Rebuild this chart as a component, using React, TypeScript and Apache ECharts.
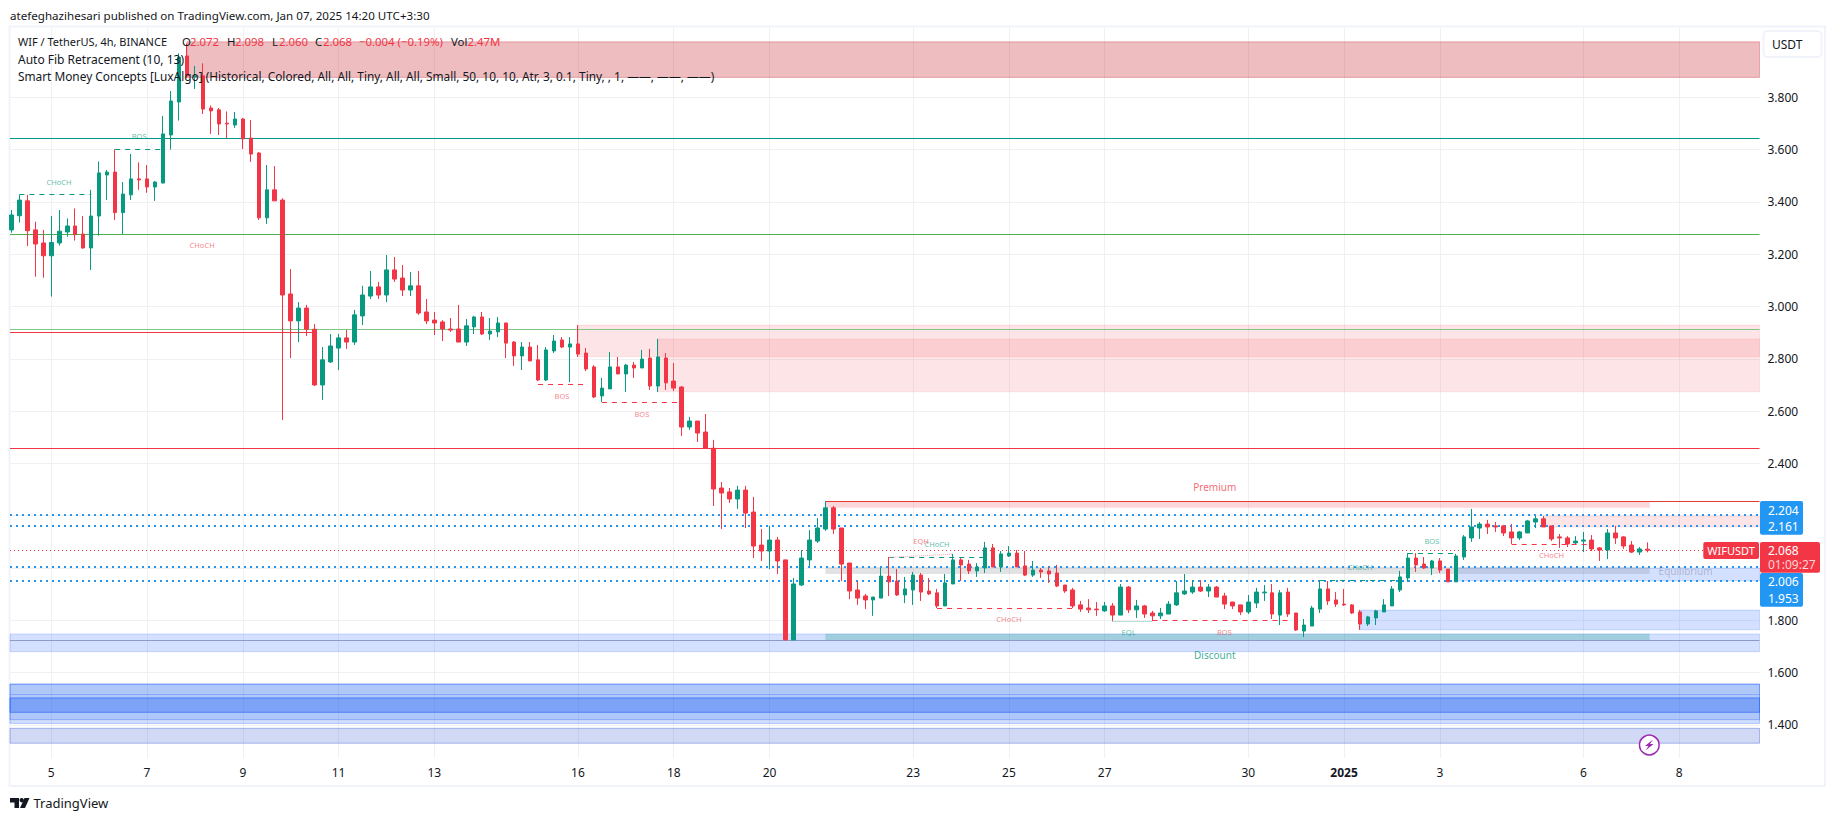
import React, { useEffect, useRef } from "react";
import * as echarts from "echarts";

type Row = [number, number, number, number];
// [open, high, low, close]
const candlesDec4to8: Row[] = [
[3.293,3.369,3.282,3.350],[3.347,3.427,3.321,3.407],[3.404,3.427,3.231,3.290],[3.293,3.324,3.114,3.239],[3.243,3.293,3.110,3.194],
[3.194,3.346,3.038,3.245],[3.243,3.369,3.233,3.288],[3.285,3.337,3.267,3.308],[3.308,3.375,3.252,3.275],[3.277,3.346,3.221,3.224],
[3.224,3.446,3.140,3.346],[3.346,3.555,3.271,3.511],[3.503,3.522,3.407,3.514],[3.514,3.601,3.331,3.359],[3.359,3.476,3.277,3.430],
[3.427,3.583,3.407,3.488],[3.488,3.551,3.446,3.484],[3.488,3.541,3.435,3.457],[3.457,3.480,3.404,3.476],[3.472,3.729,3.472,3.660],
[3.656,3.824,3.600,3.786],[3.782,3.968,3.711,3.953],[3.958,4.006,3.873,3.882],[3.878,3.920,3.832,3.882],[3.882,3.930,3.736,3.755],
[3.759,3.769,3.660,3.748],[3.752,3.759,3.656,3.698],[3.701,3.746,3.643,3.698],[3.694,3.744,3.683,3.717],
];
const candlesDec9to15: Row[] = [
[3.717,3.721,3.602,3.641],[3.644,3.713,3.553,3.583],[3.587,3.591,3.331,3.339],[3.339,3.541,3.316,3.446],[3.446,3.537,3.404,3.404],
[3.407,3.414,2.566,3.044],[3.048,3.143,2.803,2.945],[2.945,3.017,2.864,2.994],[2.994,3.006,2.887,2.913],[2.913,2.933,2.696,2.700],
[2.700,2.845,2.643,2.796],[2.788,2.895,2.784,2.849],[2.841,2.895,2.757,2.880],[2.880,2.910,2.838,2.864],[2.864,2.987,2.853,2.968],
[2.964,3.079,2.929,3.044],[3.040,3.136,3.029,3.075],[3.075,3.094,3.029,3.044],[3.044,3.197,3.017,3.140],[3.140,3.189,3.094,3.105],
[3.109,3.159,3.040,3.063],[3.063,3.132,3.040,3.079],[3.079,3.136,2.968,2.975],[2.979,3.029,2.933,2.945],[2.948,2.979,2.891,2.937],
[2.941,2.948,2.868,2.914],[2.914,2.956,2.903,2.910],[2.914,3.006,2.864,2.864],[2.864,2.952,2.849,2.926],[2.922,2.964,2.895,2.960],
[2.960,2.979,2.891,2.895],[2.895,2.956,2.872,2.906],[2.903,2.960,2.883,2.937],[2.937,2.937,2.803,2.860],[2.864,2.868,2.773,2.811],
[2.811,2.864,2.757,2.845],[2.845,2.864,2.792,2.792],[2.796,2.853,2.715,2.719],[2.719,2.845,2.715,2.834],[2.830,2.891,2.822,2.868],
[2.872,2.883,2.841,2.845],[2.845,2.883,2.711,2.857],
];
const candlesDec16to21: Row[] = [
[2.857,2.929,2.807,2.818],[2.822,2.841,2.753,2.761],[2.769,2.776,2.650,2.654],[2.658,2.727,2.635,2.688],[2.685,2.826,2.685,2.769],
[2.769,2.807,2.742,2.742],[2.742,2.780,2.673,2.776],[2.776,2.788,2.727,2.765],[2.765,2.834,2.765,2.799],[2.803,2.838,2.681,2.696],
[2.696,2.876,2.673,2.807],[2.803,2.822,2.681,2.708],[2.715,2.784,2.677,2.688],[2.692,2.696,2.505,2.539],[2.539,2.578,2.528,2.562],
[2.562,2.562,2.482,2.516],[2.520,2.589,2.458,2.458],[2.458,2.490,2.237,2.302],[2.306,2.329,2.149,2.287],[2.291,2.306,2.249,2.264],
[2.264,2.314,2.226,2.298],[2.298,2.314,2.153,2.210],[2.214,2.272,2.038,2.084],[2.088,2.149,2.027,2.065],[2.065,2.161,1.996,2.107],
[2.107,2.119,1.977,2.027],[2.031,2.031,1.725,1.725],[1.725,1.962,1.725,1.939],[1.935,2.069,1.931,2.038],[2.031,2.145,2.008,2.107],
[2.103,2.191,2.096,2.153],[2.149,2.256,2.142,2.230],[2.230,2.237,2.130,2.149],
];
const candlesDec22to28: Row[] = [
[2.153,2.153,1.950,2.015],[2.019,2.019,1.881,1.912],[1.916,1.950,1.859,1.885],[1.893,1.901,1.843,1.878],[1.878,1.889,1.817,1.889],
[1.885,2.000,1.885,1.969],[1.969,2.042,1.893,1.947],[1.950,1.996,1.893,1.897],[1.897,1.966,1.866,1.920],[1.916,1.985,1.859,1.973],
[1.973,1.981,1.874,1.908],[1.912,1.962,1.897,1.901],[1.905,1.920,1.847,1.855],[1.855,1.977,1.855,1.943],[1.939,2.054,1.939,2.031],
[2.031,2.038,1.950,2.012],[2.015,2.031,1.977,1.989],[1.989,2.019,1.966,2.004],[2.000,2.100,1.981,2.077],[2.077,2.092,2.004,2.004],
[2.004,2.065,1.985,2.054],[2.046,2.084,2.042,2.057],[2.057,2.069,2.004,2.004],[2.008,2.065,1.969,1.973],[1.973,2.027,1.966,1.992],
[1.992,2.000,1.962,1.985],[1.989,2.004,1.943,1.977],[1.981,2.012,1.927,1.931],[1.935,1.935,1.905,1.912],[1.916,1.924,1.847,1.855],
[1.859,1.874,1.832,1.843],[1.847,1.881,1.828,1.840],[1.843,1.870,1.817,1.840],[1.836,1.870,1.832,1.855],[1.855,1.866,1.797,1.820],
[1.820,1.939,1.820,1.927],[1.927,1.931,1.828,1.840],[1.840,1.878,1.809,1.855],[1.855,1.859,1.809,1.824],[1.828,1.836,1.797,1.817],
];
const candlesDec29toJan2: Row[] = [
[1.817,1.847,1.805,1.828],[1.824,1.874,1.824,1.862],[1.859,1.950,1.855,1.905],[1.901,1.977,1.897,1.912],[1.908,1.954,1.901,1.927],
[1.927,1.954,1.908,1.912],[1.912,1.939,1.889,1.927],[1.927,1.931,1.889,1.889],[1.893,1.905,1.843,1.862],[1.870,1.870,1.843,1.855],
[1.859,1.859,1.820,1.832],[1.832,1.897,1.824,1.870],[1.866,1.924,1.847,1.908],[1.905,1.935,1.874,1.908],[1.905,1.939,1.805,1.824],
[1.820,1.916,1.782,1.905],[1.908,1.924,1.813,1.824],[1.828,1.828,1.759,1.763],[1.759,1.805,1.736,1.782],[1.778,1.855,1.778,1.847],
[1.843,1.954,1.828,1.920],[1.920,1.950,1.859,1.874],[1.878,1.908,1.851,1.862],[1.862,1.920,1.855,1.859],[1.859,1.862,1.824,1.828],
[1.832,1.840,1.763,1.786],[1.786,1.817,1.778,1.813],[1.809,1.840,1.782,1.836],[1.832,1.881,1.832,1.859],[1.855,1.931,1.855,1.920],
[1.916,1.989,1.908,1.966],[1.962,2.057,1.947,2.038],[2.038,2.057,1.985,2.012],[2.015,2.042,1.996,2.000],[2.000,2.031,1.973,2.027],
];
const candlesJan3to7: Row[] = [
[2.027,2.038,1.981,1.992],[1.996,1.996,1.947,1.947],[1.947,2.054,1.947,2.046],[2.042,2.126,2.031,2.119],[2.115,2.226,2.100,2.157],
[2.153,2.176,2.111,2.168],[2.168,2.184,2.130,2.157],[2.161,2.176,2.138,2.157],[2.161,2.165,2.122,2.134],[2.138,2.168,2.092,2.115],
[2.115,2.142,2.107,2.138],[2.134,2.184,2.134,2.180],[2.176,2.199,2.153,2.188],[2.188,2.199,2.157,2.157],[2.161,2.161,2.103,2.111],
[2.119,2.130,2.077,2.115],[2.115,2.122,2.080,2.092],[2.096,2.122,2.088,2.103],[2.103,2.138,2.061,2.107],[2.107,2.126,2.065,2.073],
[2.077,2.080,2.027,2.069],[2.069,2.149,2.034,2.134],[2.134,2.161,2.092,2.115],[2.119,2.122,2.073,2.084],[2.088,2.103,2.057,2.061],
[2.061,2.080,2.050,2.073],[2.072,2.098,2.060,2.068],
];

const dayTickIndex = [5, 17, 29, 41, 53, 71, 83, 95, 113, 125, 137, 155, 167, 179, 197, 209];
const dayTickLabels = ["5", "7", "9", "11", "13", "16", "18", "20", "23", "25", "27", "30", "2025", "3", "6", "8"];
const priceGrid = [1.4, 1.6, 1.8, 2.0, 2.2, 2.4, 2.6, 2.8, 3.0, 3.2, 3.4, 3.6, 3.8];
const priceLabels = [1.4, 1.6, 1.8, 2.4, 2.6, 2.8, 3.0, 3.2, 3.4, 3.6, 3.8];

const X_MIN = -0.175;
const X_MAX = 219.06;
const Y_MIN = 1.2735;
const Y_MAX = 4.065;
const LAST_BAR_END = 205.3;

// [from, to, price]
const tealLevel = [[X_MIN, X_MAX, 3.643]];
const greenLevel = [[X_MIN, X_MAX, 3.276]];
const paleGreenLevel = [[X_MIN, X_MAX, 2.913]];
const redLevels = [[X_MIN, 38, 2.901], [X_MIN, X_MAX, 2.458]];
const premiumLevel = [[102, X_MAX, 2.2535]];
const midLevels = [[X_MIN, X_MAX, 1.7225]];
const bottomEdge = [[X_MIN, X_MAX, 1.518]];
const keyPrices = [2.204, 2.161, 2.006, 1.953];
const lastPrice = 2.068;
const tealDashes = [[1, 10, 3.43], [13, 19, 3.601], [110, 122, 2.041], [164, 174, 1.954], [175, 181, 2.056]];
const redDashes = [[66, 72, 2.704], [74, 84, 2.633], [116, 133, 1.846], [143, 160, 1.8], [188, 198, 2.091]];

// [from, to, high, low]
const redBlock = [[22, X_MAX, 4.012, 3.876]];
const pinkZones = [[71, X_MAX, 2.929, 2.808], [81, X_MAX, 2.876, 2.674], [192, X_MAX, 2.199, 2.157]];
const premiumZone = [[102, LAST_BAR_END, 2.2535, 2.23]];
const equilibriumZone = [[102, LAST_BAR_END, 2.0035, 1.977]];
const discountZone = [[102, LAST_BAR_END, 1.749, 1.7225]];
const blueZones = [[X_MIN, X_MAX, 1.748, 1.68], [169, X_MAX, 1.839, 1.764], [181, X_MAX, 2.0, 1.951]];
const stackedZones = [
  [X_MIN, X_MAX, 1.556, 1.448], [X_MIN, X_MAX, 1.556, 1.448], [X_MIN, X_MAX, 1.503, 1.42], [X_MIN, X_MAX, 1.503, 1.406],
];
const paleZone = [[X_MIN, X_MAX, 1.387, 1.33]];

// [index, price, text]
const tealTags: [number, number, string][] = [
  [5.96, 3.477, "CHoCH"], [16, 3.651, "BOS"], [116, 2.092, "CHoCH"], [140, 1.754, "EQL"], [169, 2.003, "CHoCH"], [178, 2.102, "BOS"],
];
const redTags: [number, number, string][] = [
  [23.9, 3.235, "CHoCH"], [69, 2.657, "BOS"], [79, 2.588, "BOS"], [114, 2.102, "EQH"], [125, 1.804, "CHoCH"], [152, 1.754, "BOS"], [193, 2.049, "CHoCH"],
];
const zoneTags: [number, number, string, string][] = [
  [150.8, 2.31, "Premium", "rgba(242,54,69,0.95)"],
  [150.8, 1.667, "Discount", "rgba(8,153,129,1)"],
  [209.8, 1.99, "Equilibrium", "rgba(120,123,134,0.55)"],
];

const FONT = '"Noto Sans", sans-serif';

const App = () => {
  const ref = useRef<HTMLDivElement>(null);
  useEffect(() => {
    document.body.style.margin = "0";
    const chart = echarts.init(ref.current!, undefined, { renderer: "svg" });
    const rows = [...candlesDec4to8, ...candlesDec9to15, ...candlesDec16to21, ...candlesDec22to28, ...candlesDec29toJan2, ...candlesJan3to7];
    const seg = (list: number[][], width: number, color: string, type: any = "solid") =>
      list.map((s) => [
        { coord: [s[0], s[2]], lineStyle: { color, width, type } },
        { coord: [s[1], s[2]] },
      ]);
    const area = (list: number[][], color: string, border: string) =>
      list.map((z) => [
        { coord: [z[0], z[2]], itemStyle: { color, borderColor: border, borderWidth: border === "none" ? 0 : 1 } },
        { coord: [z[1], z[3]] },
      ]);
    const tagSeries = (list: any[], color: string, size: number) => ({
      type: "scatter",
      symbolSize: 0,
      silent: true,
      z: 6,
      data: list.map((t) => ({ value: [t[0], t[1]], name: t[2] })),
      label: { show: true, position: "inside", formatter: (p: any) => p.name, color, fontSize: size, fontFamily: FONT },
    });
    const leg = (x: number, y: number, text: string, fill = "#131722", size = 11.4) => ({
      type: "text", x, y, z: 20, silent: true,
      style: { text, fill, font: `${size}px ${FONT}`, textVerticalAlign: "middle" },
    });
    const tag = (x: number, y: number, text: string, fill = "#ffffff", align = "left", size = 12) => ({
      type: "text", x, y, z: 22, silent: true,
      style: { text, fill, font: `${size}px ${FONT}`, textVerticalAlign: "middle", textAlign: align },
    });
    const box = (x: number, y: number, width: number, height: number, fill: string) => ({
      type: "rect", z: 21, silent: true,
      shape: { x, y, width, height, r: 2 },
      style: { fill },
    });
    chart.setOption({
      animation: false,
      backgroundColor: "#ffffff",
      grid: { left: 10, right: 75.5, top: 28, bottom: 63, containLabel: false },
      xAxis: {
        type: "value", min: X_MIN, max: X_MAX,
        axisLine: { show: false },
        axisTick: { show: false, customValues: dayTickIndex },
        splitLine: { show: true, lineStyle: { color: "#f0f0f3", width: 1 } },
        axisLabel: {
          customValues: dayTickIndex,
          showMinLabel: true, showMaxLabel: true,
          margin: 8,
          hideOverlap: false,
          color: "#131722", fontSize: 12, fontFamily: FONT,
          formatter: (v: number) => {
            const t = dayTickLabels[dayTickIndex.indexOf(Math.round(v))] ?? "";
            return t === "2025" ? `{b|${t}}` : t;
          },
          rich: { b: { fontWeight: "bold", fontSize: 12, color: "#131722", fontFamily: FONT } },
        },
      },
      yAxis: {
        type: "value", position: "right", min: Y_MIN, max: Y_MAX, scale: true,
        axisLine: { show: false },
        axisTick: { show: false, customValues: priceGrid },
        splitLine: { show: true, lineStyle: { color: "#f0f0f3", width: 1 } },
        axisLabel: {
          customValues: priceLabels, margin: 8,
          color: "#131722", fontSize: 12, fontFamily: FONT,
          formatter: (v: number) => v.toFixed(3),
        },
      },
      series: [
        {
          type: "line", data: [[0, 3]], symbol: "none", silent: true, z: 1, lineStyle: { width: 0 },
          markArea: {
            silent: true, z: 1,
            label: { show: false },
            data: [
              ...area(stackedZones, "rgba(33,100,240,0.2)", "rgba(41,98,255,0.35)"),
              ...area(paleZone, "rgba(63,95,210,0.24)", "rgba(63,95,210,0.4)"),
              ...area(blueZones, "rgba(41,98,255,0.2)", "rgba(41,98,255,0.2)"),
              ...area(redBlock, "rgba(199,35,48,0.3)", "rgba(199,35,48,0.3)"),
              ...area(pinkZones, "rgba(242,54,69,0.13)", "rgba(242,54,69,0.1)"),
              ...area(premiumZone, "rgba(242,54,69,0.2)", "none"),
              ...area(equilibriumZone, "rgba(120,123,134,0.22)", "none"),
              ...area(discountZone, "rgba(8,153,129,0.25)", "none"),
            ],
          },
          markLine: {
            silent: true, z: 1, symbol: "none", label: { show: false },
            data: [
              ...seg(tealLevel, 1, "#009688"),
              ...seg(greenLevel, 1, "#4caf50"),
              ...seg(paleGreenLevel, 1, "#81c784"),
              ...seg(redLevels, 1, "#f23645"),
              ...seg(premiumLevel, 1, "#e53935"),
              ...seg(midLevels, 1, "#8c9cc4"),
              ...seg(bottomEdge, 1, "rgba(41,98,255,0.3)"),
              ...keyPrices.map((p) => [
                { coord: [X_MIN, p], lineStyle: { color: "#2196f3", width: 2, type: [2, 4] } },
                { coord: [X_MAX, p] },
              ]),
              [
                { coord: [X_MIN, lastPrice], lineStyle: { color: "#f23645", width: 1, type: [1, 3] } },
                { coord: [X_MAX, lastPrice] },
              ],
            ],
          },
        },
        {
          type: "candlestick",
          z: 3,
          barWidth: 4,
          silent: true,
          itemStyle: { color: "#089981", color0: "#f23645", borderColor: "#089981", borderColor0: "#f23645", borderWidth: 1 },
          data: rows.map((r, i) => [i, r[0], r[3], r[2], r[1]]),
        },
        {
          type: "line", data: [[0, 3]], symbol: "none", silent: true, z: 4, lineStyle: { width: 0 },
          markLine: {
            silent: true, z: 4, symbol: "none", label: { show: false },
            data: [
              ...seg(tealDashes, 1, "#089981", [5, 5]),
              ...seg(redDashes, 1, "#f23645", [5, 5]),
              [
                { coord: [110, 2.041], lineStyle: { color: "#f7a6ac", width: 1, type: [1, 1] } },
                { coord: [118, 2.053] },
              ],
              [
                { coord: [138, 1.797], lineStyle: { color: "#6cc2b3", width: 1, type: [1, 1] } },
                { coord: [143, 1.797] },
              ],
            ],
          },
        },
        tagSeries(tealTags, "rgba(8,153,129,0.85)", 7.5),
        tagSeries(redTags, "rgba(242,54,69,0.8)", 7.5),
        ...zoneTags.map((z) => tagSeries([z], z[3], 10)),
      ],
      graphic: [
        { type: "text", x: 10, y: 15, z: 20, silent: true, style: { text: "atefeghazihesari published on TradingView.com, Jan 07, 2025 14:20 UTC+3:30", fill: "#131722", font: `11.6px ${FONT}`, textVerticalAlign: "middle" } },
        { type: "rect", z: 0, silent: true, shape: { x: 9.5, y: 26.5, width: 1815.5, height: 759.5 }, style: { fill: "none", stroke: "#f0f3fa", lineWidth: 2 } },
        leg(18, 41.5, "WIF / TetherUS, 4h, BINANCE", "#131722", 11),
        leg(182, 41.5, "O"), leg(190, 41.5, "2.072", "#f23645"),
        leg(227, 41.5, "H"), leg(235, 41.5, "2.098", "#f23645"),
        leg(272, 41.5, "L"), leg(279, 41.5, "2.060", "#f23645"),
        leg(315, 41.5, "C"), leg(323, 41.5, "2.068", "#f23645"),
        leg(359, 41.5, "\u22120.004 (\u22120.19%)", "#f23645"),
        leg(451, 41.5, "Vol"), leg(467.5, 41.5, "2.47M", "#f23645"),
        leg(18, 59, "Auto Fib Retracement (10, 13)", "#131722", 12),
        leg(18, 76, "Smart Money Concepts [LuxAlgo] (Historical, Colored, All, All, Tiny, All, All, Small, 50, 10, 10, Atr, 3, 0.1, Tiny, , 1, \u2014\u2014, \u2014\u2014, \u2014\u2014)", "#131722", 11.85),
        // price tags
        box(1760, 501, 43, 33.7, "#2196f3"),
        tag(1768, 510, "2.204"), tag(1768, 526.7, "2.161"),
        box(1760, 573, 43, 33.7, "#2196f3"),
        tag(1768, 581.7, "2.006"), tag(1768, 598.3, "1.953"),
        box(1703.3, 542, 55.7, 17, "#f23645"),
        tag(1731, 550.7, "WIFUSDT", "#ffffff", "center", 11),
        box(1760, 542, 60, 30.7, "#f23645"),
        tag(1768, 550.7, "2.068"), tag(1768, 564.3, "01:09:27", "#fbd5d8"),
        { type: "rect", z: 20, silent: true, shape: { x: 1763.5, y: 31, width: 58, height: 26, r: 4 }, style: { fill: "#ffffff", stroke: "#f0f3fa", lineWidth: 2 } },
        tag(1772, 44.5, "USDT", "#131722"),
        // flash icon
        { type: "circle", z: 20, silent: true, shape: { cx: 1649.3, cy: 745, r: 9.8 }, style: { fill: "#ffffff", stroke: "#9c27b0", lineWidth: 1.5 } },
        { type: "polygon", z: 21, silent: true, shape: { points: [[1653, 739.5], [1645, 746], [1648.5, 746], [1645.5, 750.5], [1653.5, 744], [1650, 744]] }, style: { fill: "#9c27b0" } },
        // footer logo
        { type: "polygon", z: 20, silent: true, shape: { points: [[10, 798], [19, 798], [19, 808], [14.5, 808], [14.5, 802.5], [10, 802.5]] }, style: { fill: "#131722" } },
        { type: "circle", z: 20, silent: true, shape: { cx: 21.7, cy: 800.2, r: 2.2 }, style: { fill: "#131722" } },
        { type: "polygon", z: 20, silent: true, shape: { points: [[24.5, 798], [29.5, 798], [25, 808], [20, 808]] }, style: { fill: "#131722" } },
        { type: "text", x: 33.5, y: 803, z: 20, silent: true, style: { text: "TradingView", fill: "#131722", font: `13px ${FONT}`, textVerticalAlign: "middle" } },
      ],
    });
    return () => chart.dispose();
  }, []);
  return <div ref={ref} style={{ position: "absolute", left: 0, top: 0, width: 1835, height: 821 }} />;
};

export default App;
